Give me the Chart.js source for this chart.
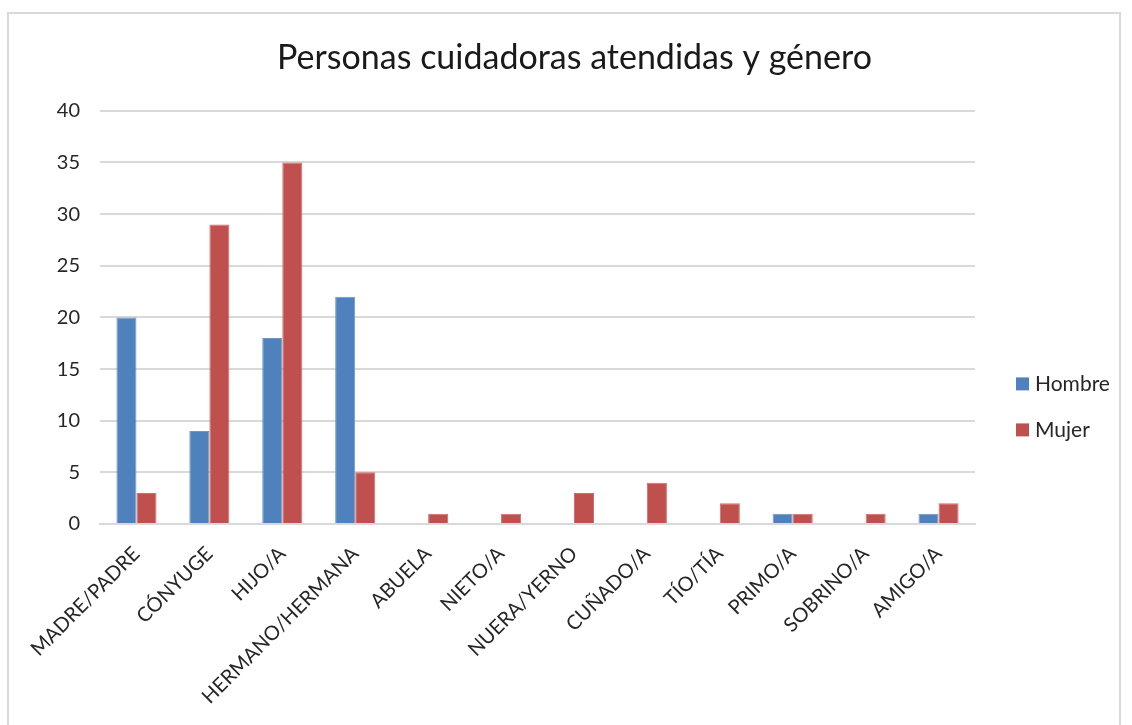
<!DOCTYPE html>
<html>
<head>
<meta charset="utf-8">
<script src="https://cdn.jsdelivr.net/npm/chart.js@4"></script>
<style>
  body { margin: 0; background: #fff; overflow: hidden; }
  #marco { position: absolute; left: 7px; top: 12px; width: 1110px; height: 740px; border: 2px solid #d9d9d9; }
  #lienzo { position: absolute; left: 0; top: 0; }
</style>
</head>
<body>
<div id="marco"></div>
<canvas id="lienzo" width="1132" height="725"></canvas>
<script>
// Parentesco de la persona cuidadora
const parentesco = ['MADRE/PADRE', 'CÓNYUGE', 'HIJO/A', 'HERMANO/HERMANA', 'ABUELA', 'NIETO/A',
  'NUERA/YERNO', 'CUÑADO/A', 'TÍO/TÍA', 'PRIMO/A', 'SOBRINO/A', 'AMIGO/A'];
const hombres = [20, 9, 18, 22, 0, 0, 0, 0, 0, 1, 0, 1];
const mujeres = [3, 29, 35, 5, 1, 1, 3, 4, 2, 1, 1, 2];
const ticksY = [0, 5, 10, 15, 20, 25, 30, 35, 40];

const fuente = 'Lato, "Open Sans", sans-serif';

// leyenda a la derecha, dibujada a mano para colocarla como en Excel
const leyenda = {
  id: 'leyenda',
  afterDraw(chart) {
    const ctx = chart.ctx;
    const area = chart.chartArea;
    const x = area.right + 41;
    let y = (area.top + area.bottom) / 2 + 67;
    ctx.save();
    ctx.font = '21px ' + fuente;
    ctx.textBaseline = 'middle';
    chart.data.datasets.forEach(ds => {
      ctx.fillStyle = ds.backgroundColor;
      ctx.fillRect(x, y - 7, 13, 13);
      ctx.fillStyle = '#262626';
      ctx.fillText(ds.label, x + 19, y);
      y += 46;
    });
    ctx.restore();
  }
};

var ctx = document.getElementById('lienzo').getContext('2d');

var grafico = new Chart(ctx, {
  type: 'bar',
  data: {
    labels: parentesco,
    datasets: [{
      label: 'Hombre',
      data: hombres,
      backgroundColor: '#4F81BD',
      borderColor: '#6d96c8',
      borderWidth: 1
    }, {
      label: 'Mujer',
      data: mujeres,
      backgroundColor: '#C0504D',
      borderColor: '#cf6e6b',
      borderWidth: 1
    }]
  },
  options: {
    responsive: false,
    animation: false,
    layout: { padding: { left: 17, right: 0, top: 12, bottom: 0 } },
    datasets: {
      bar: { categoryPercentage: 0.55, barPercentage: 1 }
    },
    plugins: {
      legend: { display: false },
      tooltip: { enabled: false },
      title: {
        display: true,
        text: 'Personas cuidadoras atendidas y género',
        color: '#1a1a1a',
        font: { family: fuente, size: 34, weight: 'normal' },
        padding: { top: 26, bottom: 32 }
      }
    },
    scales: {
      x: {
        afterFit: scale => { scale.height = 201; },
        grid: { display: false, drawTicks: false },
        border: { color: '#d9d9d9', width: 2 },
        ticks: {
          color: '#262626',
          font: { family: fuente, size: 20 },
          minRotation: 45,
          maxRotation: 45,
          padding: 18
        }
      },
      y: {
        min: 0,
        max: 40,
        afterFit: scale => { scale.width = 83; },
        afterBuildTicks: scale => { scale.ticks = ticksY.map(v => ({ value: v })); },
        grid: { color: '#d9d9d9', lineWidth: 2, drawTicks: false },
        border: { display: false },
        ticks: {
          color: '#262626',
          font: { family: fuente, size: 20 },
          padding: 20
        }
      },
      // hueco a la derecha para la leyenda
      hueco: {
        type: 'linear',
        position: 'right',
        min: 0,
        max: 40,
        afterFit: scale => { scale.width = 157; },
        grid: { display: false, drawTicks: false },
        border: { display: false },
        ticks: { display: false }
      }
    }
  },
  plugins: [leyenda]
});
</script>
</body>
</html>
